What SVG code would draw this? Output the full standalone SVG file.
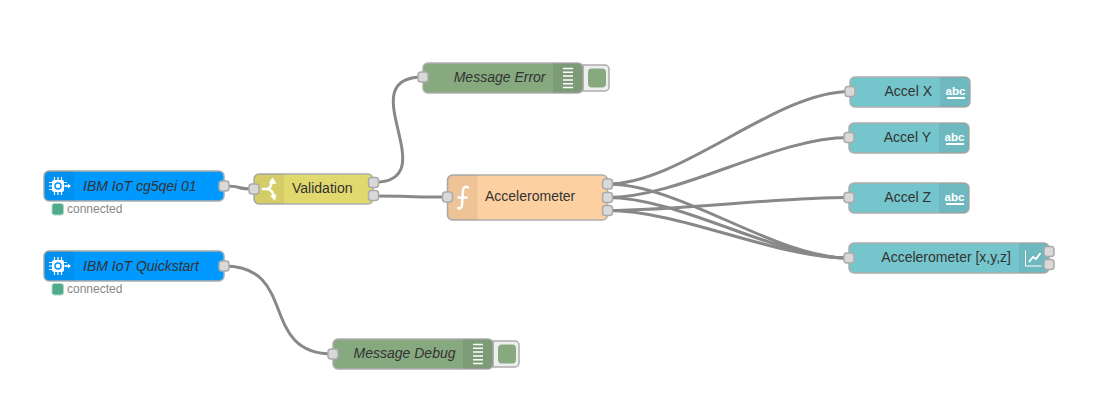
<svg xmlns="http://www.w3.org/2000/svg" width="1106" height="404" viewBox="0 0 1106 404">
<style>
.b{stroke:#adadad;stroke-width:1.5}
.ic{fill:#000;fill-opacity:.06}
.p{fill:#d9d9d9;stroke:#aaa;stroke-width:1.5}
.w{fill:none;stroke:#888;stroke-width:3}
.t{font:14px "Liberation Sans",Arial,sans-serif;fill:#333}
.i{font-style:italic}
.s{font:12px "Liberation Sans",Arial,sans-serif;fill:#888}
.abc{font:bold 11.5px "Liberation Sans",Arial,sans-serif;fill:#fff;text-anchor:middle}
.wi{fill:none;stroke:#fff;stroke-linecap:round;stroke-linejoin:round}
.blue{fill:#0099ff}.yel{fill:#e2d96e}.org{fill:#fdd0a2}.grn{fill:#87a980}.teal{fill:#75c5cc}
.st{fill:#53a98a;stroke:#a5dcc6;stroke-width:1}
</style>
<defs>
<g id="chip">
<rect x="-6" y="-6" width="12" height="12" rx="2" fill="#fff"/>
<circle r="3" fill="none" stroke="#0099ff" stroke-width="1.5"/>
<path d="M-3.500-9v18M0-9v18M3.500-9v18M-9-3.500h18M-9 0h18M-9 3.500h15" stroke="#fff" stroke-width="1.200" fill="none" stroke-dasharray="3 12 3 0"/>
<path d="M7-0.800h3v-1.700l2.800 2.500-2.800 2.500v-1.700h-3z" fill="#fff"/>
</g>
<g id="lines"><path d="M-5-9.500h10M-5-5.700h10M-5-1.900h10M-5 1.900h10M-5 5.700h10M-5 9.500h10" stroke="#fff" stroke-width="1.500" fill="none"/></g>
<g id="dbtn"><path d="M0-13h22a4 4 0 0 1 4 4v18a4 4 0 0 1-4 4H0z" fill="#eee" stroke="#adadad" stroke-width="1.500"/><rect x="5" y="-9.500" width="18" height="19" rx="4" fill="#87a980"/></g>
</defs>

<g id="connectors">
<path class="w" d="M224 186C246.500 186 231.500 189 254 189"/>
<path class="w" d="M224 266C299 266 258 354 333 354"/>
<path class="w" d="M373 182.500C448 182.500 348 77 423 77"/>
<path class="w" d="M373 196C423 196 392 197 447 197"/>
<path class="w" d="M607 184C682 184 775 91.500 850 91.500"/>
<path class="w" d="M607 197.500C682 197.500 774 137.500 849 137.500"/>
<path class="w" d="M607 210.500C682 210.500 774 197.500 849 197.500"/>
<path class="w" d="M607 184C682 184 774 258 849 258"/>
<path class="w" d="M607 197.500C682 197.500 774 258 849 258"/>
<path class="w" d="M607 210.500C682 210.500 774 258 849 258"/>
</g>

<g id="n-iot1">
<rect class="b blue" x="44" y="171" width="180" height="30" rx="5"/>
<path class="ic" d="M49 171h25v30H49a5 5 0 0 1-5-5v-20a5 5 0 0 1 5-5z"/>
<use href="#chip" x="58" y="186"/>
<text class="t i" x="83" y="190.500">IBM IoT cg5qei 01</text>
<rect class="p" x="219" y="181" width="10" height="10" rx="3"/>
<rect class="st" x="52" y="203.500" width="11.500" height="11.500" rx="2.500"/>
<text class="s" x="67" y="213">connected</text>
</g>

<g id="n-iot2">
<rect class="b blue" x="44" y="251" width="180" height="30" rx="5"/>
<path class="ic" d="M49 251h25v30H49a5 5 0 0 1-5-5v-20a5 5 0 0 1 5-5z"/>
<use href="#chip" x="58" y="266"/>
<text class="t i" x="83" y="270.500">IBM IoT Quickstart</text>
<rect class="p" x="219" y="261" width="10" height="10" rx="3"/>
<rect class="st" x="52" y="283.500" width="11.500" height="11.500" rx="2.500"/>
<text class="s" x="67" y="293">connected</text>
</g>

<g id="n-validation">
<rect class="b yel" x="254" y="174" width="119" height="30" rx="5"/>
<path class="ic" d="M259 174h25v30h-25a5 5 0 0 1-5-5v-20a5 5 0 0 1 5-5z"/>
<path class="wi" stroke-width="2.500" d="M263 189h3.500c3 0 4-2 4.500-4l1-5M274 197.500c-.5-4-2-8.500-7.500-8.500"/>
<path d="M268.500 183l4.500-5.500 3.500 6.500zM270 195.500l6.500-1-1.500 6.500z" fill="#fff"/>
<text class="t" x="292" y="193">Validation</text>
<rect class="p" x="249" y="184" width="10" height="10" rx="3"/>
<rect class="p" x="368.500" y="177.500" width="10" height="10" rx="3"/>
<rect class="p" x="368.500" y="190.500" width="10" height="10" rx="3"/>
</g>

<g id="n-error">
<use href="#dbtn" x="583" y="78"/>
<rect class="b grn" x="423" y="63" width="160" height="30" rx="5"/>
<path d="M553 63h25a5 5 0 0 1 5 5v20a5 5 0 0 1-5 5h-25z" fill="#000" fill-opacity=".08"/>
<use href="#lines" x="568" y="78"/>
<text class="t i" x="545.500" y="82" text-anchor="end">Message Error</text>
<rect class="p" x="418" y="72" width="10" height="10" rx="3"/>
</g>

<g id="n-debug">
<use href="#dbtn" x="493" y="354"/>
<rect class="b grn" x="333" y="339" width="160" height="30" rx="5"/>
<path d="M463 339h25a5 5 0 0 1 5 5v20a5 5 0 0 1-5 5h-25z" fill="#000" fill-opacity=".08"/>
<use href="#lines" x="478" y="354"/>
<text class="t i" x="455.500" y="358" text-anchor="end">Message Debug</text>
<rect class="p" x="328" y="349" width="10" height="10" rx="3"/>
</g>

<g id="n-accel">
<rect class="b org" x="447.500" y="175" width="160" height="45" rx="5"/>
<path class="ic" d="M452.500 175h25v45h-25a5 5 0 0 1-5-5v-35a5 5 0 0 1 5-5z"/>
<path class="wi" stroke-width="2.500" d="M468 187.500c-3-1.500-4.500-.5-5 2.500l-1 15c-.3 3-2 4-4 3M458.500 197.500h8"/>
<text class="t" x="485" y="201">Accelerometer</text>
<rect class="p" x="442.500" y="192" width="10" height="10" rx="3"/>
<rect class="p" x="602.500" y="179" width="10" height="10" rx="3"/>
<rect class="p" x="602.500" y="192.500" width="10" height="10" rx="3"/>
<rect class="p" x="602.500" y="205.500" width="10" height="10" rx="3"/>
</g>

<g id="n-x">
<rect class="b teal" x="850" y="77" width="120" height="30" rx="5"/>
<path class="ic" d="M940 77h25a5 5 0 0 1 5 5v20a5 5 0 0 1-5 5h-25z"/>
<text class="abc" x="955.500" y="95">abc</text><rect x="947" y="97" width="18" height="2" fill="#fff"/>
<text class="t" x="932" y="96" text-anchor="end">Accel X</text>
<rect class="p" x="845" y="86.500" width="10" height="10" rx="3"/>
</g>

<g id="n-y">
<rect class="b teal" x="849" y="123" width="120" height="30" rx="5"/>
<path class="ic" d="M939 123h25a5 5 0 0 1 5 5v20a5 5 0 0 1-5 5h-25z"/>
<text class="abc" x="954.500" y="141">abc</text><rect x="946" y="143" width="18" height="2" fill="#fff"/>
<text class="t" x="931" y="142" text-anchor="end">Accel Y</text>
<rect class="p" x="844" y="132.500" width="10" height="10" rx="3"/>
</g>

<g id="n-z">
<rect class="b teal" x="849" y="183" width="120" height="30" rx="5"/>
<path class="ic" d="M939 183h25a5 5 0 0 1 5 5v20a5 5 0 0 1-5 5h-25z"/>
<text class="abc" x="954.500" y="201">abc</text><rect x="946" y="203" width="18" height="2" fill="#fff"/>
<text class="t" x="931" y="202" text-anchor="end">Accel Z</text>
<rect class="p" x="844" y="192.500" width="10" height="10" rx="3"/>
</g>

<g id="n-chart">
<rect class="b teal" x="849" y="243" width="200" height="30" rx="5"/>
<path class="ic" d="M1019 243h25a5 5 0 0 1 5 5v20a5 5 0 0 1-5 5h-25z"/>
<path d="M1025.500 250.500v15.500h16" fill="none" stroke="#fff" stroke-width="1"/>
<path d="M1029 262l4-5 3 2 4.500-6" fill="none" stroke="#fff" stroke-width="1.800"/>
<text class="t" x="1011" y="262" text-anchor="end">Accelerometer [x,y,z]</text>
<rect class="p" x="844" y="253" width="10" height="10" rx="3"/>
<rect class="p" x="1044" y="246.500" width="10" height="10" rx="3"/>
<rect class="p" x="1044" y="259.500" width="10" height="10" rx="3"/>
</g>
</svg>
